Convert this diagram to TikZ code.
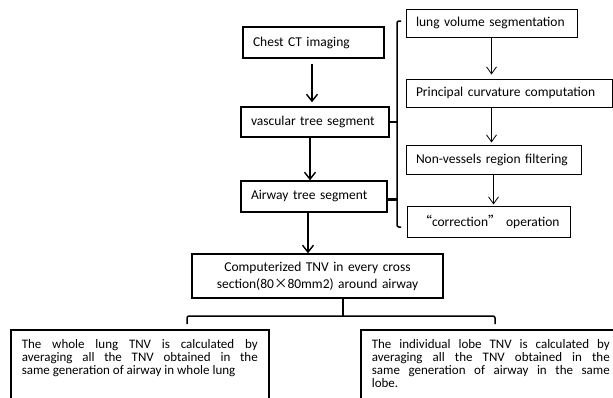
\documentclass[tikz,border=0pt]{standalone}
\usepackage{fontspec}
\setmainfont{Carlito}
\newfontfamily\cjk{Noto Sans CJK SC}
\usetikzlibrary{arrows.meta}

\begin{document}
\begin{tikzpicture}[x=1pt,y=-1pt,
  stage/.style={draw,line width=1.4pt,align=left,inner xsep=10pt,inner ysep=0pt,font=\fontsize{13.5}{16}\selectfont},
  substage/.style={stage,line width=1pt},
  result/.style={draw,line width=1.6pt,align=justify,anchor=north west,inner xsep=11pt,inner ysep=10pt,text depth=60pt,font=\fontsize{13}{13}\selectfont},
  flow/.style={line width=1.4pt,-{Straight Barb[length=7pt,width=11pt]}},
  subflow/.style={line width=0.8pt,-{Straight Barb[length=7pt,width=10pt]}},
  brace/.style={line width=1.5pt,rounded corners=2pt}]
\useasboundingbox (0,0) rectangle (613,397);
\clip (0,0) rectangle (613,397);

\node[stage,text width=121pt,minimum height=31pt] (chest) at (313.5,42.5) {Chest CT imaging};
\node[stage,text width=128pt,minimum height=30pt] (vasc) at (315,122) {vascular tree segment};
\node[stage,text width=126pt,minimum height=31pt] (airway) at (314,196.5) {Airway tree segment};

\node[substage,text width=151pt,minimum height=28pt] (lungvol) at (491.5,23) {lung volume segmentation};
\node[substage,text width=186pt,minimum height=28pt] (curv) at (509,93) {Principal curvature computation};
\node[substage,text width=155pt,minimum height=29pt] (filter) at (493.5,159.5) {Non-vessels region filtering};
\node[substage,text width=140pt,inner xsep=11.5pt,minimum height=31pt] (correct) at (488.5,221.5) {\mbox{{\cjk “}correction{\cjk ”} operation}};

\draw[flow,shorten <=5pt,shorten >=4pt] ([xshift=-1.5pt]chest.south) -- ([xshift=-1.5pt]chest.south |- vasc.north);
\draw[flow] ([xshift=-5pt]vasc.south) -- ([xshift=-5pt]vasc.south |- airway.north);

\draw[subflow,shorten >=4pt] (lungvol.south) -- (lungvol.south |- curv.north);
\draw[subflow,shorten >=2pt] (lungvol.south |- curv.south) -- (lungvol.south |- filter.north);
\draw[subflow,shorten >=1pt] (filter.south) -- (filter.south |- correct.north);

% bracket joining the two segments to the right-hand steps
\coordinate (bt) at (397,21);
\coordinate (bb) at (397,227);
\draw[brace] ([xshift=4pt]bt) -- (bt) -- (bb) -- ([xshift=4pt]bb);
\draw[line width=2.5pt] (vasc.east) -- (vasc.east -| bt);
\draw[line width=3.5pt] ([yshift=-3pt]airway.east) -- ([yshift=-3pt]airway.east -| bt);

\node[stage,align=center,text width=231pt,minimum height=44pt,font=\fontsize{13.5}{17}\selectfont] (tnv) at (317.5,276)
  {Computerized TNV in every cross\\section(80{\cjk ×}80mm2) around airway};
\draw[flow] ([xshift=-6pt]airway.south) -- ([xshift=-6pt]airway.south |- tnv.north);

\coordinate (split) at (343,316);
\coordinate (hl) at (187,316);
\coordinate (hr) at (495,316);
\draw[line width=1.5pt] (tnv.south -| split) -- (split);
\draw[brace] ([yshift=-8pt]hl) -- (hl) -- (hr) -- ([yshift=-8pt]hr);

\node[result,text width=236pt] (whole) at (10,329)
  {The whole lung TNV is calculated by\linebreak averaging all the TNV obtained in the\linebreak same generation of airway in whole lung};
\node[result,text width=238pt] (lobe) at (360,329)
  {The individual lobe TNV is calculated by\linebreak averaging all the TNV obtained in the\linebreak same generation of airway in the same\linebreak lobe.};
\end{tikzpicture}
\end{document}
